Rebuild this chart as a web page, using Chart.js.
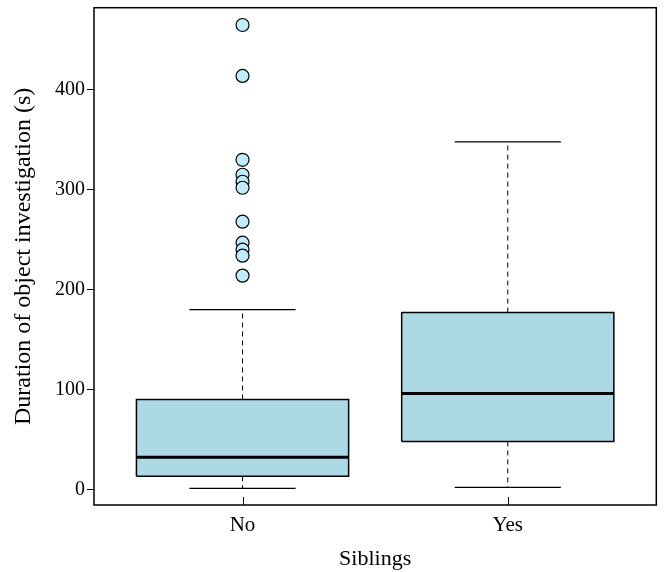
<!DOCTYPE html>
<html>
<head>
<meta charset="utf-8">
<script src="https://cdn.jsdelivr.net/npm/chart.js@4/dist/chart.umd.min.js"></script>
<style>
  html, body { margin: 0; padding: 0; background: #fff; }
  #wrap { width: 664px; height: 572px; }
</style>
</head>
<body>
<div id="wrap"><canvas id="c" width="664" height="572"></canvas></div>
<script>
// Box-plot summaries per group (seconds)
const groups = ['No', 'Yes'];
const whiskerLow = [1, 2];
const quartile1 = [13, 48];
const medians = [32, 96];
const quartile3 = [90, 177];
const whiskerHigh = [180, 348];
const outliersNo = [465, 414, 330, 315, 308, 302, 268, 247, 240, 234, 214];
const outliersYes = [];
const yTicks = [0, 100, 200, 300, 400];

const BOX_HALF = 0.4;   // half box width in x units
const CAP_HALF = 0.2;   // half staple width
const FONT = '"Liberation Serif", "Times New Roman", serif';

const datasets = [];

// outliers on top
const outlierSets = [outliersNo, outliersYes];
outlierSets.forEach((vals, i) => {
  if (!vals.length) return;
  datasets.push({
    data: vals.map(v => ({ x: i + 1, y: v })),
    showLine: false,
    pointRadius: 6.5,
    pointBackgroundColor: '#BFEBFA',
    pointBorderColor: '#000',
    pointBorderWidth: 1.2,
    order: 0
  });
});

groups.forEach((g, i) => {
  const c = i + 1;
  // median bar
  datasets.push({
    data: [{ x: c - BOX_HALF, y: medians[i] }, { x: c + BOX_HALF, y: medians[i] }],
    showLine: true, borderColor: '#000', borderWidth: 3, pointRadius: 0, order: 1
  });
  // staples
  datasets.push({
    data: [
      { x: c - CAP_HALF, y: whiskerHigh[i] }, { x: c + CAP_HALF, y: whiskerHigh[i] },
      { x: c, y: null },
      { x: c - CAP_HALF, y: whiskerLow[i] }, { x: c + CAP_HALF, y: whiskerLow[i] }
    ],
    showLine: true, spanGaps: false, borderColor: '#000', borderWidth: 1.3, pointRadius: 0, order: 2
  });
  // dashed whiskers
  datasets.push({
    data: [
      { x: c, y: quartile3[i] }, { x: c, y: whiskerHigh[i] },
      { x: c, y: null },
      { x: c, y: quartile1[i] }, { x: c, y: whiskerLow[i] }
    ],
    showLine: true, spanGaps: false, borderColor: '#000', borderWidth: 1,
    borderDash: [5, 4], pointRadius: 0, order: 3
  });
  // box
  datasets.push({
    data: [
      { x: c - BOX_HALF, y: quartile1[i] }, { x: c + BOX_HALF, y: quartile1[i] },
      { x: c + BOX_HALF, y: quartile3[i] }, { x: c - BOX_HALF, y: quartile3[i] },
      { x: c - BOX_HALF, y: quartile1[i] }
    ],
    showLine: true, fill: 'shape', backgroundColor: '#ADD8E6',
    borderColor: '#000', borderWidth: 1.5, pointRadius: 0, order: 4
  });
});

// plot frame and inward x ticks
const framePlugin = {
  id: 'frame',
  afterDatasetsDraw(chart) {
    const { ctx, chartArea: a, scales } = chart;
    ctx.save();
    ctx.strokeStyle = '#000';
    ctx.lineWidth = 1;
    scales.x.ticks.forEach(t => {
      const px = Math.round(scales.x.getPixelForValue(t.value)) + 0.5;
      ctx.beginPath();
      ctx.moveTo(px, a.bottom);
      ctx.lineTo(px, a.bottom - 8);
      ctx.stroke();
    });
    ctx.lineWidth = 1.5;
    ctx.strokeRect(a.left, a.top, a.right - a.left, a.bottom - a.top);
    ctx.restore();
  }
};

new Chart(document.getElementById('c'), {
  type: 'scatter',
  data: { datasets },
  plugins: [framePlugin],
  options: {
    responsive: false,
    animation: false,
    layout: { padding: { top: 7, right: 6, left: 9, bottom: 0 } },
    plugins: { legend: { display: false }, tooltip: { enabled: false } },
    scales: {
      x: {
        type: 'linear',
        min: 0.44,
        max: 2.56,
        afterBuildTicks: s => { s.ticks = groups.map((g, i) => ({ value: i + 1 })); },
        afterFit: s => { s.height = 67; s.paddingLeft = 0; s.paddingRight = 0; },
        grid: { display: false, drawTicks: false },
        border: { display: false },
        ticks: {
          color: '#000', padding: 8,
          font: { family: FONT, size: 21 },
          callback: v => groups[v - 1]
        },
        title: {
          display: true, text: 'Siblings', color: '#000',
          font: { family: FONT, size: 22 }, padding: { top: 4, bottom: 0 }
        }
      },
      y: {
        type: 'linear',
        min: -15.7,
        max: 482.3,
        afterBuildTicks: s => { s.ticks = yTicks.map(v => ({ value: v })); },
        afterFit: s => { s.width = 85; s.paddingTop = 0; s.paddingBottom = 0; },
        grid: { drawOnChartArea: false, drawTicks: true, tickLength: 7, color: '#000', lineWidth: 1 },
        border: { display: false },
        ticks: {
          color: '#000', padding: 2,
          font: { family: FONT, size: 20 },
          callback: v => String(v)
        },
        title: {
          display: true, text: 'Duration of object investigation (s)', color: '#000',
          font: { family: FONT, size: 24 }, padding: { top: 0, bottom: 4 }
        }
      }
    }
  }
});
</script>
</body>
</html>
